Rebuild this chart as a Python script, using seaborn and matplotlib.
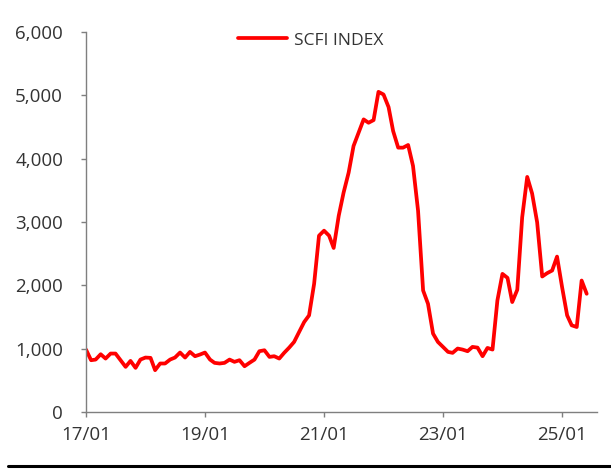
import matplotlib
matplotlib.use("Agg")
import matplotlib.pyplot as plt
import matplotlib.dates as mdates
from matplotlib.lines import Line2D
import seaborn as sns
import pandas as pd

start_month = "2017-01-01"
series_name = "SCFI INDEX"
scfi_values = [
    985, 818, 828, 912, 844, 923, 923, 818, 713, 807, 697, 828,
    860, 855, 661, 766, 766, 828, 860, 939, 860, 949, 881, 907,
    939, 828, 776, 766, 776, 828, 792, 818, 723, 776, 828, 960,
    975, 870, 881, 844, 934, 1017, 1106, 1264, 1421, 1526, 2024, 2784,
    2863, 2784, 2590, 3098, 3465, 3781, 4200, 4410, 4620, 4567, 4609, 5055,
    5013, 4814, 4436, 4174, 4174, 4216, 3886, 3178, 1919, 1709, 1238, 1106,
    1028, 949, 934, 1002, 986, 960, 1028, 1017, 881, 1012, 986, 1762,
    2181, 2118, 1736, 1930, 3073, 3712, 3450, 2994, 2139, 2192, 2234, 2454,
    1972, 1526, 1369, 1342, 2076, 1867,
]
y_ticks = [0, 1000, 2000, 3000, 4000, 5000, 6000]
x_tick_dates = ["2017-01-01", "2019-01-01", "2021-01-01", "2023-01-01", "2025-01-01"]

dates = pd.date_range(start_month, periods=len(scfi_values), freq="MS")
df = pd.DataFrame({"date": dates, "value": scfi_values, "series": series_name})

sns.set_style("white")
plt.rcParams["font.family"] = ["Open Sans", "DejaVu Sans"]

fig = plt.figure(figsize=(6.11, 4.69), dpi=100)
ax = fig.add_axes([0.1408, 0.1215, 0.977 - 0.1408, 0.9318 - 0.1215])

sns.lineplot(data=df, x="date", y="value", hue="series", palette=["#ff0000"],
             linewidth=2.7, ax=ax)

ax.set_ylim(0, 6000)
ax.set_yticks(y_ticks)
ax.yaxis.set_major_formatter(matplotlib.ticker.FuncFormatter(lambda v, p: f"{int(v):,}"))
ax.set_xlim(pd.Timestamp("2017-01-01"), pd.Timestamp("2025-08-03"))
ax.set_xticks(pd.to_datetime(x_tick_dates))
ax.xaxis.set_major_formatter(mdates.DateFormatter("%y/%m"))
ax.set_xlabel("")
ax.set_ylabel("")

for s in ["top", "right"]:
    ax.spines[s].set_visible(False)
for s in ["left", "bottom"]:
    ax.spines[s].set_color("#7f7f7f")
    ax.spines[s].set_linewidth(1.0)

ax.tick_params(axis="both", which="major", direction="out", length=3.5, width=1,
               color="#7f7f7f", labelcolor="#333333", labelsize=13.5, left=True, bottom=True)
ax.tick_params(axis="y", pad=13)
ax.tick_params(axis="x", pad=6.5)

leg = ax.legend(loc="upper center", bbox_to_anchor=(0.44, 1.04), frameon=False,
                fontsize=12.5, handlelength=2.8, handletextpad=0.4)
for t in leg.get_texts():
    t.set_color("#333333")

fig.add_artist(Line2D([0.013, 1.0], [0.007, 0.007], color="black", linewidth=2.2,
                      transform=fig.transFigure))

fig.savefig("out.png", dpi=100)
